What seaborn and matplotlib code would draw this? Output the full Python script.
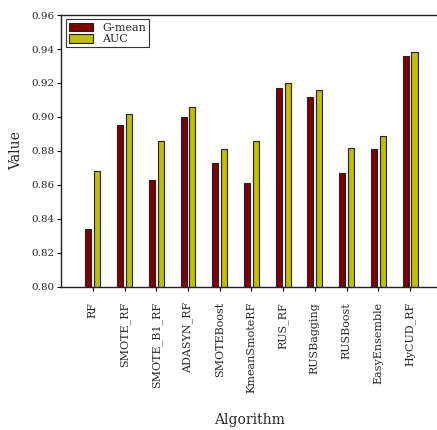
import matplotlib
matplotlib.use('Agg')
import matplotlib.pyplot as plt
import seaborn as sns
import pandas as pd

algorithms = ["RF", "SMOTE_RF", "SMOTE_B1_RF", "ADASYN_RF", "SMOTEBoost",
              "KmeanSmoteRF", "RUS_RF", "RUSBagging", "RUSBoost",
              "EasyEnsemble", "HyCUD_RF"]
gmean = [0.834, 0.895, 0.863, 0.900, 0.873, 0.861, 0.917, 0.912, 0.867, 0.881, 0.936]
auc = [0.868, 0.902, 0.886, 0.906, 0.881, 0.886, 0.920, 0.916, 0.882, 0.889, 0.938]
metrics = ["G-mean", "AUC"]
yticks = [0.80, 0.82, 0.84, 0.86, 0.88, 0.90, 0.92, 0.94, 0.96]

df = pd.DataFrame({
    "Algorithm": algorithms * 2,
    "Value": gmean + auc,
    "Metric": [metrics[0]] * len(algorithms) + [metrics[1]] * len(algorithms),
})

sns.set_style("white")
plt.rcParams['font.family'] = ['DejaVu Serif']

fig = plt.figure(figsize=(4.37, 4.30), dpi=100)
ax = fig.add_axes([0.14, 0.333, 0.86, 0.632])

sns.barplot(data=df, x="Algorithm", y="Value", hue="Metric",
            palette=["#800000", "#bfbf00"], saturation=1, width=0.56, gap=0.32,
            edgecolor="#222222", linewidth=0.8, ax=ax)

ax.set_ylim(0.80, 0.96)
ax.set_xlim(-1, 10.85)
ax.set_yticks(yticks)
ax.set_yticklabels([f"{v:.2f}" for v in yticks], fontsize=7.5)
ax.set_xticks(range(len(algorithms)))
ax.set_xticklabels(algorithms, rotation=90, fontsize=8)
ax.tick_params(axis="both", direction="out", length=3, width=0.8, color="black",
               bottom=True, left=True, pad=2)
ax.tick_params(axis="x", pad=8)
ax.set_ylabel("Value", fontsize=10, labelpad=6)
ax.set_xlabel("Algorithm", fontsize=10, labelpad=14)

for side in ["left", "bottom", "top"]:
    ax.spines[side].set_color("#222222")
    ax.spines[side].set_linewidth(1.0)
ax.spines["right"].set_visible(False)

leg = ax.legend(loc="upper left", fontsize=8, frameon=True, fancybox=False,
                borderpad=0.3, handlelength=2.2, handleheight=0.8,
                labelspacing=0.1, borderaxespad=0.4)
leg.get_frame().set_edgecolor("black")
leg.get_frame().set_linewidth(0.8)

fig.savefig("out.png", dpi=100)
